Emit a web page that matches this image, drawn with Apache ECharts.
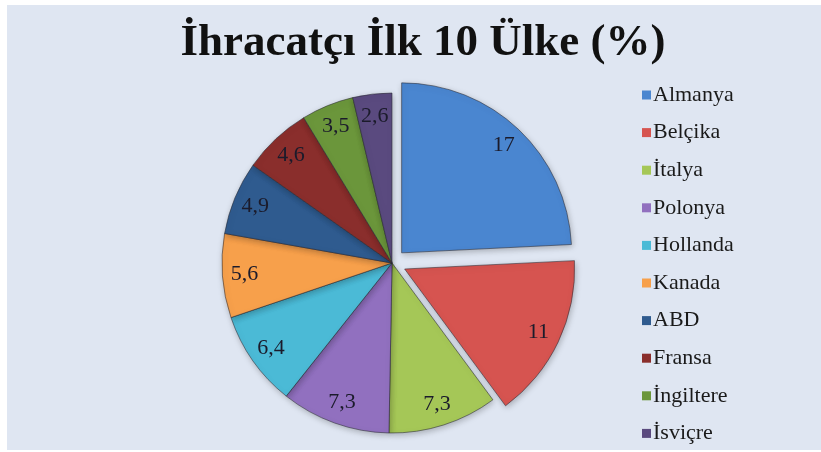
<!DOCTYPE html>
<html>
<head>
<meta charset="utf-8">
<script src="https://cdn.jsdelivr.net/npm/echarts@6/dist/echarts.min.js"></script>
<style>
    html, body { margin: 0; padding: 0; background: #fff; }
    #main { position: absolute; left: 7px; top: 5px; width: 814px; height: 445px; background: #dfe6f2; }
</style>
</head>
<body>
<div id="main"></div>
<script>
// ülkeler ve payları (%)
var ulkeler = ['Almanya', 'Belçika', 'İtalya', 'Polonya', 'Hollanda', 'Kanada', 'ABD', 'Fransa', 'İngiltere', 'İsviçre'];
var paylar = [17, 11, 7.3, 7.3, 6.4, 5.6, 4.9, 4.6, 3.5, 2.6];
var etiketler = ['17', '11', '7,3', '7,3', '6,4', '5,6', '4,9', '4,6', '3,5', '2,6'];
var ayrik = ['Almanya', 'Belçika']; // dışarı çekilen dilimler
var renkler = ['#4a86d0', '#d65450', '#a5c757', '#9170bf', '#4bbad6', '#f7a04b', '#2f5b8f', '#8a2e2c', '#6b963b', '#5a4a7f'];

var serif = '"Liberation Serif", "DejaVu Serif", serif';

var myChart = echarts.init(document.getElementById('main'));

function veri(showColor) {
    return ulkeler.map(function (ad, i) {
        return {
            name: ad,
            value: paylar[i],
            selected: ayrik.indexOf(ad) >= 0,
            label: { formatter: etiketler[i] },
            itemStyle: showColor ? { color: renkler[i] } : { color: 'rgba(0,0,0,0)' }
        };
    });
}

var option = {
    title: {
        text: 'İhracatçı İlk 10 Ülke (%)',
        left: 411, top: 11, textAlign: 'center',
        textStyle: { fontFamily: serif, fontSize: 45, fontWeight: 'bold', color: '#111' }
    },
    legend: {
        orient: 'vertical',
        left: 635, top: 79,
        padding: 0,
        height: 400,
        icon: 'rect',
        itemWidth: 9, itemHeight: 9,
        itemGap: 15.6,
        itemStyle: { borderWidth: 0 },
        data: ulkeler,
        textStyle: { fontFamily: serif, fontSize: 22, lineHeight: 22, color: '#1a1a1a', padding: [0, 0, 0, -3] }
    },
    color: renkler,
    series: [{
        name: 'pay',
        type: 'pie',
        center: [385, 258],
        radius: [0, 170],
        startAngle: 90,
        clockwise: true,
        selectedMode: 'multiple',
        selectedOffset: 14,
        silent: true,
        label: { show: false },
        labelLine: { show: false },
        itemStyle: {
            borderColor: 'rgba(40,40,50,0.55)',
            borderWidth: 1,
            shadowBlur: 6,
            shadowColor: 'rgba(0,0,0,0.25)',
            shadowOffsetX: 1,
            shadowOffsetY: 2
        },
        data: veri(true)
    }, {
        // etiketler için şeffaf halka
        name: 'etiket',
        type: 'pie',
        center: [385, 258],
        radius: [120, 170],
        startAngle: 90,
        clockwise: true,
        selectedMode: 'multiple',
        selectedOffset: 14,
        silent: true,
        legendHoverLink: false,
        label: {
            show: true,
            position: 'inside',
            fontFamily: serif,
            fontSize: 22,
            color: '#1b1b2b'
        },
        labelLine: { show: false },
        data: veri(false)
    }]
};

myChart.setOption(option);
</script>
</body>
</html>
